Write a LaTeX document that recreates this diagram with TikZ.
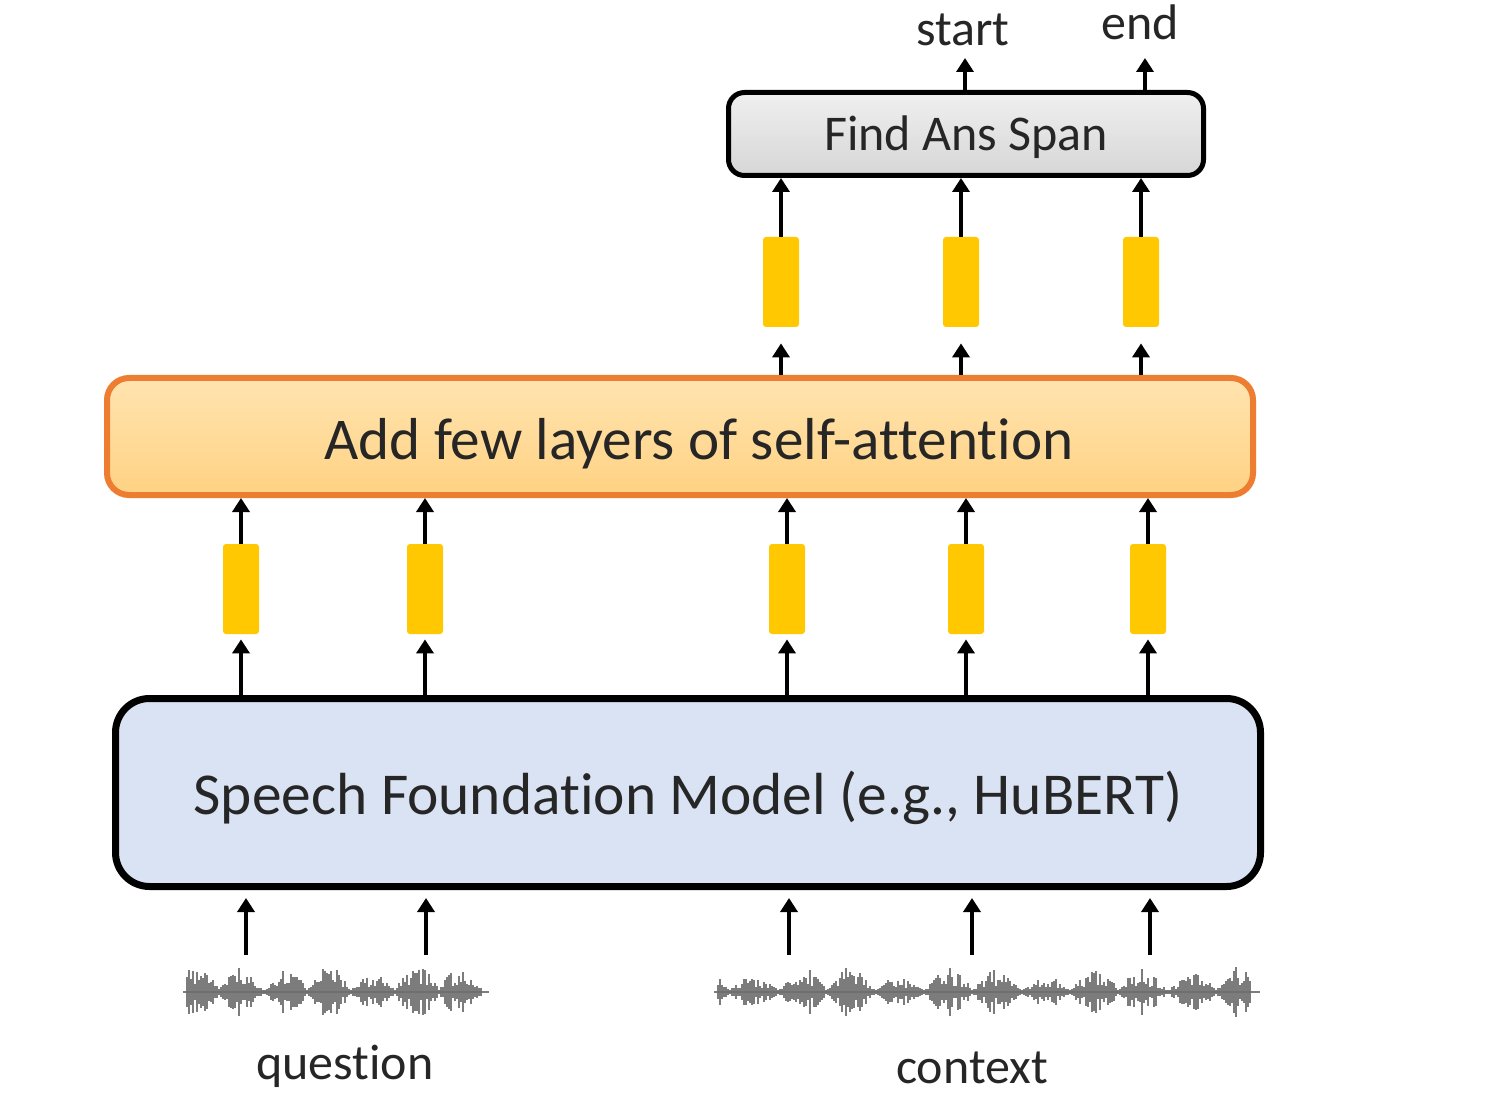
\documentclass[tikz,border=0pt]{standalone}
\usepackage{fontspec}
\setmainfont{Carlito}[Ligatures={NoCommon}]
\usetikzlibrary{arrows.meta,calc}
\definecolor{boxblue}{HTML}{DAE3F3}
\definecolor{orangeline}{HTML}{ED7D31}
\definecolor{orangetop}{HTML}{FFE4B0}
\definecolor{orangebot}{HTML}{FFD283}
\definecolor{baryellow}{HTML}{FFC800}
\definecolor{wave}{HTML}{6E6E6E}
\newcommand{\lowertext}[2]{\raisebox{-#1}[\height][\depth]{#2}}
\begin{document}
\begin{tikzpicture}[x=0.5pt,y=-0.5pt,
  arr/.style={line width=2.1pt,-{Triangle[width=8.5pt,length=7pt]}},
  vec/.style={fill=baryellow, rounded corners=1.5pt, minimum width=18pt, minimum height=45pt, inner sep=0pt},
  lbl/.style={font=\fontsize{25}{28}\selectfont, text=black!85, inner sep=0pt},
  wv/.style={wave, line width=1.1pt, opacity=0.9}
]
\useasboundingbox[fill=white] (0,0) rectangle (1504,1096);

% main boxes
\node[draw=black, line width=3.5pt, fill=boxblue, rounded corners=17pt,
      minimum width=572.5pt, minimum height=94pt, inner sep=0pt,
      font=\fontsize{29.7}{32}\selectfont, text=black!85] (sfm) at (688,792.5)
      {\lowertext{2.5pt}{Speech Foundation Model (e.g., HuBERT)}};
\node[draw=orangeline, line width=3pt, top color=orangetop, bottom color=orangebot, rounded corners=11pt,
      minimum width=573pt, minimum height=58.5pt, inner sep=0pt,
      font=\fontsize{29.6}{32}\selectfont, text=black!85] (sa) at (680,436.5)
      {\lowertext{3.5pt}{\hspace*{19pt}Add few layers of self-attention}};
\node[draw=black, line width=2.5pt, top color=gray!12, bottom color=gray!32, rounded corners=8pt,
      minimum width=237.5pt, minimum height=41.5pt, inner sep=0pt,
      font=\fontsize{25}{28}\selectfont, text=black!85] (fas) at (966,134)
      {\lowertext{1.5pt}{Find Ans Span}};

% middle vectors
\node[vec] (m1) at (241,589) {};
\node[vec] (m2) at (425,589) {};
\node[vec] (m3) at (787,589) {};
\node[vec] (m4) at (966,589) {};
\node[vec] (m5) at (1148,589) {};
% top vectors
\node[vec] (t1) at (781,282) {};
\node[vec] (t2) at (961,282) {};
\node[vec] (t3) at (1141,282) {};

\foreach \m in {m1,m2,m3,m4,m5}{
  \draw[arr] (\m.south |- sfm.north) -- ($(\m.south)+(0,5)$);
  \draw[arr] (\m.north) -- (\m.north |- sa.south);
}
\foreach \t in {t1,t2,t3}{
  \draw[arr] (\t.south |- sa.north) -- ($(\t.south)+(0,16)$);
  \draw[arr] (\t.north) -- (\t.north |- fas.south);
}

% outputs
\node[lbl, anchor=base] (start) at (963,46) {start};
\node[lbl, anchor=base] (end) at (1140,40) {end};
\coordinate (so) at (965,58);
\coordinate (eo) at (1145,58);
\draw[arr] (so |- fas.north) -- (so);
\draw[arr] (eo |- fas.north) -- (eo);

% waveforms
\pgfmathsetseed{11}
\draw[wv] (183,992) -- (489,992);
\foreach \x in {187,189,...,481}{
  \pgfmathsetmacro\a{2+(6+22*rnd)*abs(sin(\x*4.1))*(0.5+0.5*abs(cos(\x*1.7)))}
  \draw[wv] (\x,{992-\a}) -- (\x,{992+\a});
}
\draw[wv] (714,992) -- (1260,992);
\foreach \x in {718,720,...,1250}{
  \pgfmathsetmacro\a{1.5+(5+20*rnd)*abs(sin(\x*3.7))*(0.5+0.5*abs(cos(\x*1.3)))}
  \draw[wv] (\x,{992-\a}) -- (\x,{992+\a});
}

\coordinate (q1) at (246,955);
\coordinate (q2) at (426,955);
\coordinate (c1) at (789,955);
\coordinate (c2) at (972,955);
\coordinate (c3) at (1150,955);
\foreach \w in {q1,q2,c1,c2,c3}{
  \draw[arr] (\w) -- ($(\w |- sfm.south)+(0,8)$);
}

\node[lbl] (question) at (345,1066) {question};
\node[lbl] (context) at (972,1068) {context};
\end{tikzpicture}
\end{document}
